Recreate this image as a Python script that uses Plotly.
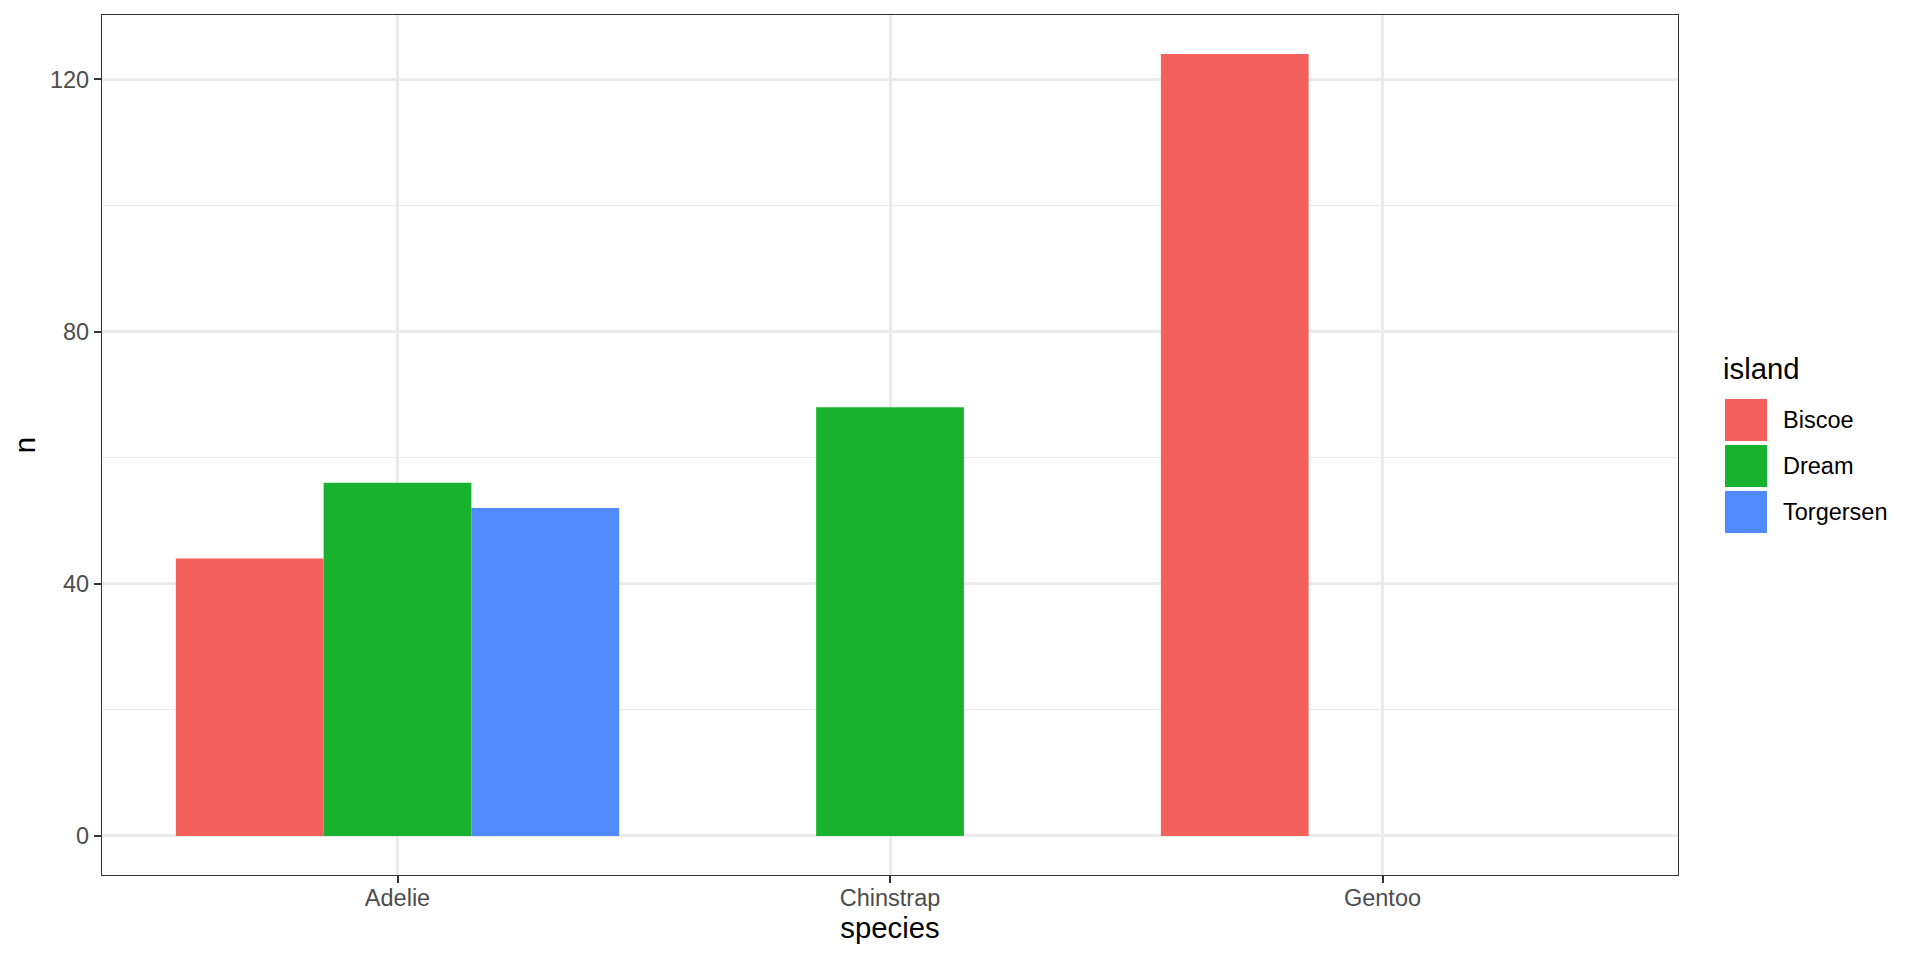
import plotly.graph_objects as go

SPECIES = ["Adelie", "Chinstrap", "Gentoo"]
ISLANDS = ["Biscoe", "Dream", "Torgersen"]
BISCOE = [44, None, 124]
DREAM = [56, 68, None]
TORGERSEN = [52, None, None]
COLORS = ["#F4605B", "#19B22F", "#5189FE"]

counts = [BISCOE, DREAM, TORGERSEN]

# page body adds an 8px margin, so the figure is drawn 8px in from the corner
OFF = 8
W, H = 1920 - 2 * OFF, 960 - 2 * OFF
ML, MT = 102 - OFF, 15 - OFF
MR, MB = W - (1678 - OFF), H - (875 - OFF)
PW, PH = W - ML - MR, H - MT - MB

TICK_SIZE = 23.5
TITLE_SIZE = 29.3

fig = go.Figure()
for isl, vals, col in zip(ISLANDS, counts, COLORS):
    fig.add_trace(go.Bar(x=SPECIES, y=vals, name=isl, marker=dict(color=col, line=dict(width=0)),
                         showlegend=False))


def px_x(p):
    return (p - OFF - ML) / PW


def px_y(p):
    return (H - MB - (p - OFF)) / PH


# hand-drawn legend to get ggplot-sized keys
shapes, notes = [], []
notes.append(dict(text="island", x=px_x(1721), y=px_y(368), xref="paper", yref="paper",
                  xanchor="left", yanchor="middle", showarrow=False,
                  font=dict(size=TITLE_SIZE, color="black")))
for i, (isl, col) in enumerate(zip(ISLANDS, COLORS)):
    top = 399 + i * 46
    shapes.append(dict(type="rect", xref="paper", yref="paper", x0=px_x(1725), x1=px_x(1767),
                       y0=px_y(top + 42), y1=px_y(top), fillcolor=col, line=dict(width=0)))
    notes.append(dict(text=isl, x=px_x(1781), y=px_y(top + 21), xref="paper", yref="paper",
                      xanchor="left", yanchor="middle", showarrow=False,
                      font=dict(size=TICK_SIZE, color="black")))

fig.update_layout(
    width=W, height=H,
    margin=dict(l=ML, r=MR, t=MT, b=MB),
    barmode="group", bargap=0.1, bargroupgap=0,
    plot_bgcolor="white", paper_bgcolor="white",
    font=dict(family="Liberation Sans, Arial, sans-serif", color="#4D4D4D", size=TICK_SIZE),
    shapes=shapes, annotations=notes,
    xaxis=dict(
        range=[-0.6, 2.6], showgrid=True, gridcolor="#EBEBEB", gridwidth=2.5,
        showline=True, linecolor="#333333", linewidth=1.3, mirror=True,
        ticks="outside", ticklen=7, tickwidth=2, tickcolor="#333333", ticklabelstandoff=-5,
        title=dict(text="species", font=dict(size=TITLE_SIZE, color="black"), standoff=6),
        tickfont=dict(size=TICK_SIZE, color="#4D4D4D"), zeroline=False, automargin=False,
    ),
    yaxis=dict(
        range=[-6.2, 130.2], tickvals=[0, 40, 80, 120], showgrid=True, gridcolor="#EBEBEB",
        gridwidth=2.5, zeroline=False,
        minor=dict(tickvals=[20, 60, 100], showgrid=True, gridcolor="#EBEBEB", gridwidth=1.3, ticklen=0),
        showline=True, linecolor="#333333", linewidth=1.3, mirror=True,
        ticks="outside", ticklen=7, tickwidth=2, tickcolor="#333333",
        title=dict(text="n", font=dict(size=TITLE_SIZE, color="black"), standoff=8),
        tickfont=dict(size=TICK_SIZE, color="#4D4D4D"), automargin=False,
    ),
)

fig.write_html("out.html")
